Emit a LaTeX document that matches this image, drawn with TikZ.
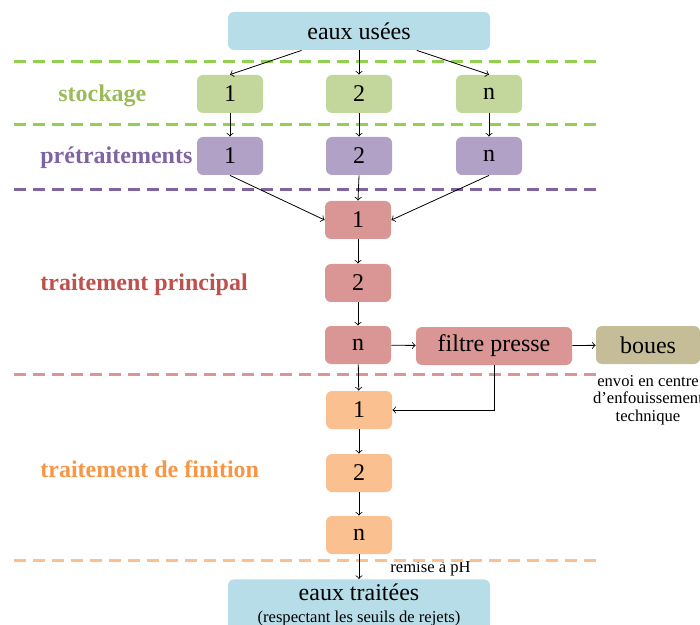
\documentclass[tikz,border=0pt]{standalone}
\usepackage{fontspec}
\setmainfont{Liberation Serif}
\definecolor{bleu}{HTML}{B7DDE8}
\definecolor{vert}{HTML}{C3D69B}
\definecolor{violet}{HTML}{B2A1C7}
\definecolor{rouge}{HTML}{D99694}
\definecolor{orange}{HTML}{FAC090}
\definecolor{beige}{HTML}{C4BD97}
\definecolor{vertfonce}{HTML}{9BBB59}
\definecolor{vertligne}{HTML}{92D050}
\definecolor{violetfonce}{HTML}{8064A2}
\definecolor{rougefonce}{HTML}{C0504D}
\definecolor{orangefonce}{HTML}{F79646}
\tikzset{
  box/.style={rounded corners=3pt, minimum width=33pt, minimum height=19pt, inner sep=0pt, font=\fontsize{12}{14}\selectfont},
  sep/.style={line width=1.5pt, dash pattern=on 6pt off 3.5pt},
  titre/.style={anchor=west, inner sep=0pt, font=\fontsize{12}{14}\selectfont\bfseries},
  petit/.style={font=\fontsize{8.3}{8.8}\selectfont, align=center}
}
\begin{document}
\begin{tikzpicture}[x=0.5pt, y=-0.5pt, >=to, line width=0.4pt]
\useasboundingbox (0,0) rectangle (700,625);

\node (eu) at (359, 31) [box, fill=bleu, minimum width=131pt] {eaux usées};

\node (s1) at (230, 94) [box, fill=vert] {1};
\node (s2) at (359, 94) [box, fill=vert] {2};
\node (sn) at (489, 94) [box, fill=vert] {n};

\node (p1) at (230, 156) [box, fill=violet] {1};
\node (p2) at (359, 156) [box, fill=violet] {2};
\node (pn) at (489, 156) [box, fill=violet] {n};

\node (t1) at (358, 220) [box, fill=rouge] {1};
\node (t2) at (358, 283) [box, fill=rouge] {2};
\node (tn) at (358, 345) [box, fill=rouge] {n};
\node (fp) at (494, 346) [box, fill=rouge, minimum width=78pt] {filtre presse};
\node (bo) at (648, 345) [box, fill=beige, minimum width=52pt] {boues};
\node (env) at (648, 375) [petit, anchor=north, inner sep=0pt] {envoi en centre\\d'enfouissement\\technique};

\node (f1) at (359, 410) [box, fill=orange] {1};
\node (f2) at (359, 473) [box, fill=orange] {2};
\node (fn) at (359, 535) [box, fill=orange] {n};

\node (et) at (359, 579) [box, fill=bleu, anchor=north, minimum width=131pt, minimum height=25pt, align=center, inner ysep=2pt] {eaux traitées\\[-3pt]{\fontsize{8.3}{9}\selectfont (respectant les seuils de rejets)}};

\node (lst) at (58, 96) [titre, text=vertfonce] {stockage};
\node (lpr) at (40, 158) [titre, text=violetfonce] {prétraitements};
\node (ltp) at (40, 285) [titre, text=rougefonce] {traitement principal};
\node (ltf) at (40, 469) [titre, text=orangefonce] {traitement de finition};
\node (ph) at (390, 568) [petit, anchor=west, inner sep=0pt] {remise à pH};

\draw [sep, vertligne] (14, 62) -- (598, 62);
\draw [sep, vertligne] (14, 125) -- (598, 125);
\draw [sep, violetfonce] (14, 190) -- (598, 190);
\draw [sep, rouge] (14, 374) -- (598, 374);
\draw [sep, orange] (14, 560) -- (598, 560);

\draw (eu) edge [->] (s1.north);
\draw (eu) edge [->] (s2.north);
\draw (eu) edge [->] (sn.north);

\draw (s1) edge [->] (p1);
\draw (s2) edge [->] (p2);
\draw (sn) edge [->] (pn);

\draw (p1.south) edge [->] (t1.west);
\draw (p2.south) edge [->] (t1.north);
\draw (pn.south) edge [->] (t1.east);

\draw (t1) edge [->] (t2);
\draw (t2) edge [->] (tn);
\draw (tn) edge [->] (fp);
\draw (fp) edge [->] (bo);
\draw [->] (fp.south) |- (f1.east);
\draw (tn) edge [->] (f1);

\draw (f1) edge [->] (f2);
\draw (f2) edge [->] (fn);
\draw (fn) edge [->] (et);
\end{tikzpicture}
\end{document}
